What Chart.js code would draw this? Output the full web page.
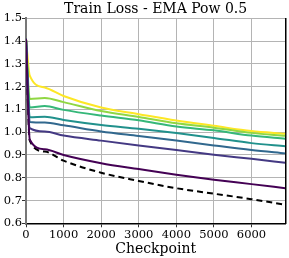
<!DOCTYPE html>
<html>
<head>
<meta charset="utf-8">
<script src="https://cdn.jsdelivr.net/npm/chart.js@4/dist/chart.umd.min.js"></script>
<style>
html,body{margin:0;padding:0;background:#fff;}
#wrap{width:289px;height:258px;position:relative;}
</style>
</head>
<body>
<div id="wrap"><canvas id="c" width="289" height="258"></canvas></div>
<script>
const checkpoints = [0, 100, 500, 1000, 2000, 3000, 4000, 5000, 6000, 6900];
const series1 = [1.41, 0.968, 0.925, 0.900, 0.864, 0.838, 0.813, 0.791, 0.772, 0.754];
const series2 = [1.41, 1.018, 1.003, 0.985, 0.963, 0.942, 0.922, 0.901, 0.883, 0.866];
const series3 = [1.41, 1.045, 1.042, 1.030, 1.003, 0.983, 0.963, 0.942, 0.922, 0.907];
const series4 = [1.41, 1.066, 1.068, 1.054, 1.032, 1.015, 0.996, 0.975, 0.952, 0.938];
const series5 = [1.41, 1.108, 1.115, 1.098, 1.073, 1.052, 1.025, 1.008, 0.985, 0.971];
const series6 = [1.41, 1.146, 1.150, 1.132, 1.093, 1.067, 1.039, 1.020, 0.997, 0.984];
const series7 = [1.41, 1.248, 1.196, 1.159, 1.108, 1.079, 1.051, 1.028, 1.005, 0.993];
const baseline = [1.41, 0.963, 0.915, 0.875, 0.822, 0.786, 0.754, 0.730, 0.706, 0.681];
const yTicks = [0.6, 0.7, 0.8, 0.9, 1.0, 1.1, 1.2, 1.3, 1.4, 1.5];
const xTicks = [0, 1000, 2000, 3000, 4000, 5000, 6000];

const colors = ['#440154', '#443983', '#31688e', '#21918c', '#35b779', '#90d743', '#fde725'];
const allSeries = [series1, series2, series3, series4, series5, series6, series7];

const toPts = arr => arr.map((v, i) => ({x: checkpoints[i], y: v}));
const datasets = allSeries.map((s, i) => ({
  data: toPts(s), borderColor: colors[i], borderWidth: 2, pointRadius: 0,
  fill: false, cubicInterpolationMode: 'monotone'
}));
datasets.push({
  data: toPts(baseline), borderColor: '#000', borderWidth: 2, borderDash: [6, 4],
  pointRadius: 0, fill: false, cubicInterpolationMode: 'monotone'
});

const FONT = 'DejaVu Serif';
new Chart(document.getElementById('c'), {
  type: 'line',
  data: {datasets},
  options: {
    responsive: false, animation: false, devicePixelRatio: 1,
    layout: {padding: 0},
    plugins: {
      legend: {display: false}, tooltip: {enabled: false},
      title: {display: true, fullSize: false, text: 'Train Loss - EMA Pow 0.5', color: '#000',
        font: {family: FONT, size: 14, weight: 'normal', lineHeight: 1.2},
        padding: {top: 1, bottom: 0.5}}
    },
    scales: {
      x: {
        type: 'linear', min: 0, max: 6900,
        afterBuildTicks: s => { s.ticks = xTicks.map(v => ({value: v})); },
        afterFit: s => { s.height = 34.7; },
        ticks: {color: '#000', font: {family: FONT, size: 11.5}, padding: 1, maxRotation: 0,
          callback: v => String(v)},
        grid: {color: '#b4b4b4', lineWidth: 1, tickLength: 4, tickColor: '#333'},
        border: {display: true, color: '#000', width: 1.5},
        title: {display: true, text: 'Checkpoint', color: '#000',
          font: {family: FONT, size: 14, lineHeight: 1.2}, padding: {top: 0, bottom: 0}}
      },
      y: {
        type: 'linear', min: 0.6, max: 1.5, position: 'left',
        afterBuildTicks: s => { s.ticks = yTicks.map(v => ({value: v})); },
        afterFit: s => { s.width = 26; },
        ticks: {color: '#000', font: {family: FONT, size: 11.5}, padding: 0,
          callback: v => v.toFixed(1)},
        grid: {color: '#b4b4b4', lineWidth: 1, tickLength: 4, tickColor: '#333'},
        border: {display: true, color: '#777', width: 2}
      },
      yr: {
        type: 'linear', position: 'right', min: 0.6, max: 1.5,
        afterFit: s => { s.width = 3.7; },
        ticks: {display: false},
        grid: {drawOnChartArea: false, drawTicks: false},
        border: {display: true, color: '#000', width: 1.5}
      }
    }
  }
});
</script>
</body>
</html>
